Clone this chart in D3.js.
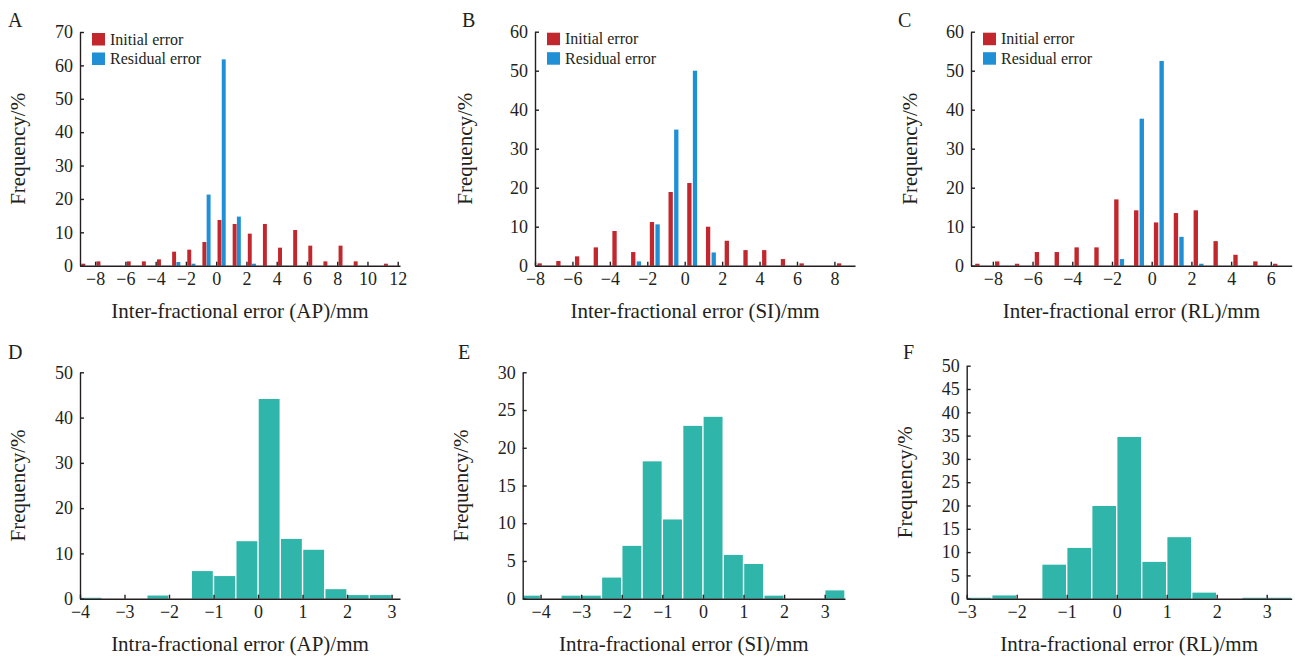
<!DOCTYPE html>
<html>
<head>
<meta charset="utf-8">
<script src="https://cdn.jsdelivr.net/npm/d3@7"></script>
<style>
  body { margin: 0; background: #fff; }
  .tick text { fill: #231f20; }
</style>
</head>
<body>
<script>
// ---- data ----
// inter-fractional: bins of 1 mm, left edge
var apBins = [-9,-8,-7,-6,-5,-4,-3,-2,-1,0,1,2,3,4,5,6,7,8,9,10,11];
var apInitial = [0.6,1.3,0,1.3,1.3,1.9,4.2,4.8,7.1,13.7,12.5,9.6,12.5,5.4,10.7,6.0,1.3,6.0,1.3,0,0.6];
var apResidual = [0,0,0,0,0,0,1.1,0.6,21.3,61.8,14.7,0.6,0,0,0,0,0,0,0,0,0];

var siBins = [-8,-7,-6,-5,-4,-3,-2,-1,0,1,2,3,4,5,6,7,8];
var siInitial = [0.6,1.2,2.4,4.7,8.9,3.5,11.2,18.9,21.2,10.0,6.4,4.0,4.0,1.7,0.6,0,0.6];
var siResidual = [0,0,0,0,0,1.1,10.6,34.9,50.0,3.4,0,0,0,0,0,0,0];

var rlBins = [-9,-8,-7,-6,-5,-4,-3,-2,-1,0,1,2,3,4,5,6];
var rlInitial = [0.5,1.1,0.5,3.5,3.5,4.7,4.7,17.0,14.2,11.1,13.5,14.2,6.3,2.8,1.1,0.5];
var rlResidual = [0,0,0,0,0,0,0,1.7,37.7,52.5,7.4,0.5,0,0,0,0];

// intra-fractional: bins of 0.5 mm, left edge
var apIntraBins = [-4,-3.5,-3,-2.5,-2,-1.5,-1,-0.5,0,0.5,1,1.5,2,2.5];
var apIntra = [0.2,0,0,0.7,0,6.1,5.0,12.7,44.1,13.2,10.8,2.1,0.8,0.8];

var siIntraBins = [-4.5,-4,-3.5,-3,-2.5,-2,-1.5,-1,-0.5,0,0.5,1,1.5,2,2.5,3];
var siIntra = [0.4,0,0.4,0.4,2.8,7.0,18.2,10.5,22.9,24.1,5.8,4.6,0.4,0,0,1.1];

var rlIntraBins = [-3,-2.5,-2,-1.5,-1,-0.5,0,0.5,1,1.5,2,2.5,3];
var rlIntra = [0.2,0.7,0,7.3,10.9,19.9,34.7,7.9,13.2,1.3,0,0.2,0.2];

// tick labels
var apXTicks = [-8,-6,-4,-2,0,2,4,6,8,10,12];
var siXTicks = [-8,-6,-4,-2,0,2,4,6,8];
var rlXTicks = [-8,-6,-4,-2,0,2,4,6];
var yTicks70 = [0,10,20,30,40,50,60,70];
var yTicks60 = [0,10,20,30,40,50,60];
var yTicks50 = [0,10,20,30,40,50];
var yTicks30 = [0,5,10,15,20,25,30];
var yTicks50by5 = [0,5,10,15,20,25,30,35,40,45,50];
var intraXTicksAP = [-4,-3,-2,-1,0,1,2,3];
var intraXTicksSI = [-4,-3,-2,-1,0,1,2,3];
var intraXTicksRL = [-3,-2,-1,0,1,2,3];

var legendLabels = ["Initial error", "Residual error"];
var red = "#c1272d", blue = "#1f8fd6", teal = "#2fb5aa";
var ink = "#231f20";
var fmt = d3.format("d");

var svg = d3.select("body").append("svg")
    .attr("width", 1295)
    .attr("height", 659)
    .attr("font-family", "'Liberation Serif', 'Times New Roman', Times, serif");

function axes(p, x, y){
    var gx = svg.append("g")
        .attr("transform", "translate(0," + p.bottom + ")")
        .call(d3.axisBottom(x).tickValues(p.xTicks).tickFormat(fmt)
            .tickSize(-4).tickSizeOuter(0).tickPadding(7));
    var gy = svg.append("g")
        .attr("transform", "translate(" + p.left + ",0)")
        .call(d3.axisLeft(y).tickValues(p.yTicks).tickFormat(fmt)
            .tickSize(-4).tickSizeOuter(0).tickPadding(7));
    [gx, gy].forEach(function(g){
        g.attr("font-family", null).attr("font-size", 18);
        g.selectAll("path, line").attr("stroke", ink).attr("stroke-width", 1.4);
    });

    svg.append("text")
        .text(p.xLabel)
        .attr("x", (p.left + p.right)/2)
        .attr("y", p.bottom + 52)
        .attr("text-anchor", "middle")
        .attr("font-size", 21)
        .attr("fill", ink);

    svg.append("text")
        .text("Frequency/%")
        .attr("transform", "translate(" + p.yLabelX + "," + (p.top + p.bottom)/2 + ") rotate(-90)")
        .attr("text-anchor", "middle")
        .attr("dy", "0.35em")
        .attr("font-size", 21)
        .attr("fill", ink);

    svg.append("text")
        .text(p.letter)
        .attr("x", p.letterX)
        .attr("y", p.letterY)
        .attr("font-size", 20)
        .attr("fill", ink);
}

function pairedPanel(p){
    var x = d3.scaleLinear().domain(p.xDomain).range([p.left, p.right]);
    var y = d3.scaleLinear().domain([0, p.yTicks[p.yTicks.length-1]]).range([p.bottom, p.top]);
    var bw = x(p.barW) - x(0);

    [[p.initial, red, p.offR], [p.residual, blue, p.offB]].forEach(function(s){
        svg.append("g").selectAll("rect")
            .data(p.bins.map(function(b, i){ return {b: b, v: s[0][i]}; })
                .filter(function(d){ return d.v > 0; }))
            .enter().append("rect")
            .attr("x", function(d){ return x(d.b + s[2]) - bw/2; })
            .attr("width", bw)
            .attr("y", function(d){ return y(d.v); })
            .attr("height", function(d){ return y(0) - y(d.v); })
            .attr("fill", s[1]);
    });

    axes(p, x, y);

    var lg = svg.append("g").attr("transform", "translate(" + (p.left + 12) + "," + (p.top + 1) + ")");
    legendLabels.forEach(function(t, i){
        lg.append("rect")
            .attr("x", 0).attr("y", i*19.5)
            .attr("width", 13).attr("height", 12.5)
            .attr("fill", i == 0 ? red : blue);
        lg.append("text")
            .text(t)
            .attr("x", 18).attr("y", i*19.5 + 11.5)
            .attr("font-size", 16)
            .attr("fill", ink);
    });
}

function histPanel(p){
    var x = d3.scaleLinear().domain(p.xDomain).range([p.left, p.right]);
    var y = d3.scaleLinear().domain([0, p.yTicks[p.yTicks.length-1]]).range([p.bottom, p.top]);

    svg.append("g").selectAll("rect")
        .data(p.bins.map(function(b, i){ return {b: b, v: p.values[i]}; })
            .filter(function(d){ return d.v > 0; }))
        .enter().append("rect")
        .attr("x", function(d){ return Math.max(x(d.b), p.left) + 0.7; })
        .attr("width", function(d){ return x(d.b + 0.5) - Math.max(x(d.b), p.left) - 1.4; })
        .attr("y", function(d){ return y(d.v); })
        .attr("height", function(d){ return y(0) - y(d.v); })
        .attr("fill", teal);

    axes(p, x, y);
}

pairedPanel({letter: "A", letterX: 8, letterY: 27, left: 80, right: 400, top: 32, bottom: 265.7,
    xDomain: [-9, 12.15], xTicks: apXTicks, yTicks: yTicks70, yLabelX: 18,
    bins: apBins, initial: apInitial, residual: apResidual, barW: 0.26, offR: 0.22, offB: 0.5,
    xLabel: "Inter-fractional error (AP)/mm"});

pairedPanel({letter: "B", letterX: 462, letterY: 27, left: 535, right: 855, top: 31.7, bottom: 265.7,
    xDomain: [-8, 9.1], xTicks: siXTicks, yTicks: yTicks60, yLabelX: 465,
    bins: siBins, initial: siInitial, residual: siResidual, barW: 0.23, offR: 0.25, offB: 0.55,
    xLabel: "Inter-fractional error (SI)/mm"});

pairedPanel({letter: "C", letterX: 898, letterY: 27, left: 971, right: 1291.7, top: 31.7, bottom: 265.7,
    xDomain: [-9.1, 7.05], xTicks: rlXTicks, yTicks: yTicks60, yLabelX: 910,
    bins: rlBins, initial: rlInitial, residual: rlResidual, barW: 0.22, offR: 0.22, offB: 0.5,
    xLabel: "Inter-fractional error (RL)/mm"});

histPanel({letter: "D", letterX: 8, letterY: 359, left: 80, right: 400, top: 372.3, bottom: 598.7,
    xDomain: [-4, 3.19], xTicks: intraXTicksAP, yTicks: yTicks50, yLabelX: 18,
    bins: apIntraBins, values: apIntra,
    xLabel: "Intra-fractional error (AP)/mm"});

histPanel({letter: "E", letterX: 458, letterY: 359, left: 522.7, right: 845, top: 372.3, bottom: 598.7,
    xDomain: [-4.44, 3.5], xTicks: intraXTicksSI, yTicks: yTicks30, yLabelX: 461,
    bins: siIntraBins, values: siIntra,
    xLabel: "Intra-fractional error (SI)/mm"});

histPanel({letter: "F", letterX: 903, letterY: 359, left: 966.7, right: 1291.7, top: 365.7, bottom: 598.7,
    xDomain: [-3, 3.5], xTicks: intraXTicksRL, yTicks: yTicks50by5, yLabelX: 905,
    bins: rlIntraBins, values: rlIntra,
    xLabel: "Intra-fractional error (RL)/mm"});
</script>
</body>
</html>
